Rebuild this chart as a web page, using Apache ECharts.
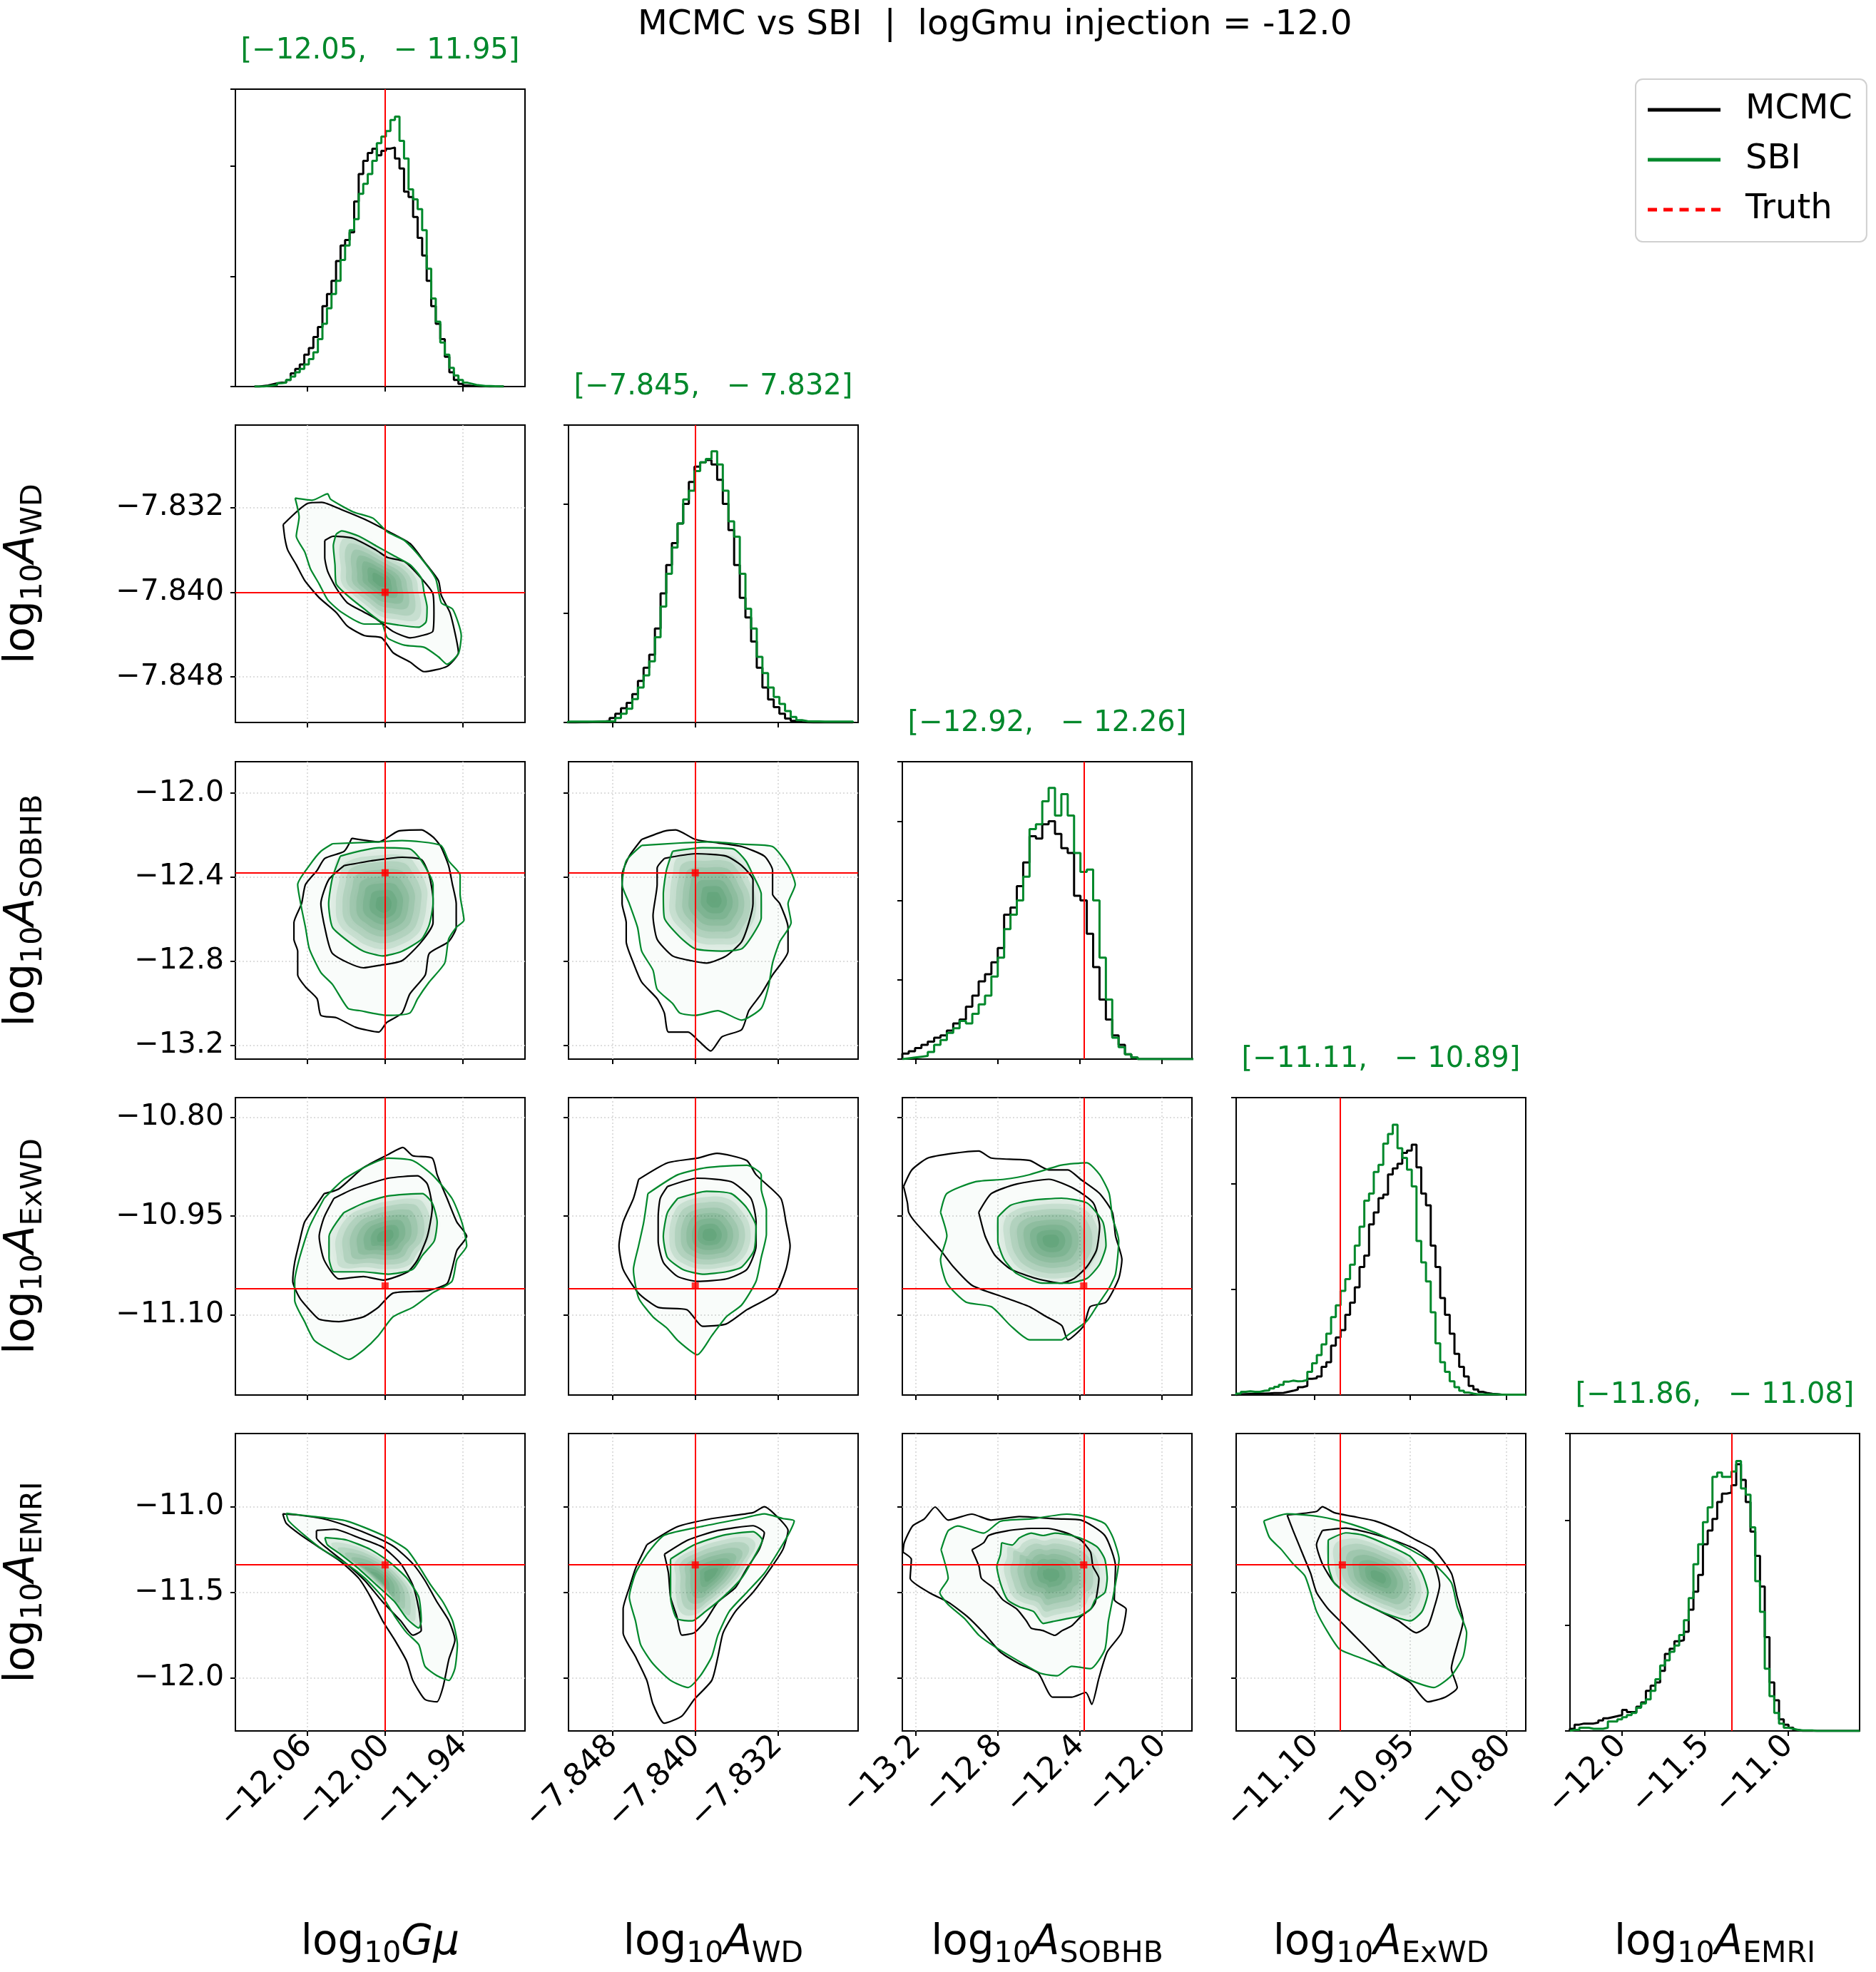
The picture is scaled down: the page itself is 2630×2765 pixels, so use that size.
<!DOCTYPE html>
<html>
<head>
<meta charset="utf-8">
<title>MCMC vs SBI corner plot</title>
<script src="https://cdn.jsdelivr.net/npm/echarts@6/dist/echarts.min.js"></script>
<style>
  html, body { margin: 0; padding: 0; background: #fff; }
  #chart { width: 2630px; height: 2765px; }
</style>
</head>
<body>
<div id="chart"></div>
<script>
const FONT = "DejaVu Sans"
const GREEN = "#00882b"
const RED = "#ff0000"

// parameters: log10 Gmu, log10 A_WD, log10 A_SOBHB, log10 A_ExWD, log10 A_EMRI
const axisMin = [-12.1156, -7.8523, -13.267, -11.2216, -12.309]
const axisMax = [-11.892, -7.8242, -11.851, -10.770, -10.573]
const truthValues = [-12.0, -7.840, -12.38, -11.056, -11.34]
const tickValues = [
  [-12.06, -12.00, -11.94],
  [-7.848, -7.840, -7.832],
  [-13.2, -12.8, -12.4, -12.0],
  [-11.10, -10.95, -10.80],
  [-12.0, -11.5, -11.0]
]
const tickDecimals = [2, 3, 1, 2, 1]
const intervalTitles = [
  "[\u221212.05,   \u2212 11.95]",
  "[\u22127.845,   \u2212 7.832]",
  "[\u221212.92,   \u2212 12.26]",
  "[\u221211.11,   \u2212 10.89]",
  "[\u221211.86,   \u2212 11.08]"
]
const axisNames = [
  "{r|log}{s|10}{i|G\u03bc}",
  "{r|log}{s|10}{i|A}{s|WD}",
  "{r|log}{s|10}{i|A}{s|SOBHB}",
  "{r|log}{s|10}{i|A}{s|ExWD}",
  "{r|log}{s|10}{i|A}{s|EMRI}"
]

// 1D marginals (density per bin)
const histStart = [-12.1009, -7.8527, -13.267, -11.2216, -12.31]
const histBinWidth = [0.0035, 0.000549, 0.0311, 0.0074, 0.0285]
const histMax = [27, 136, 3.75, 14.08, 2.82]
const histTickStep = [10, 50, 1, 5, 1]

const mcmcHist_Gmu = [0, 0.05, 0.1, 0.2, 0.3, 0.35, 0.35, 0.6, 1.2, 1.6,
  2.0, 2.9, 3.5, 4.5, 5.4, 7.3, 8.4, 9.6, 11.4, 12.8,
  13.3, 14.0, 16.8, 19.3, 20.5, 21.2, 21.6, 21.0, 21.4, 21.6,
  21.7, 20.7, 19.8, 17.7, 17.2, 15.4, 13.5, 11.9, 9.6, 7.3,
  5.7, 4.3, 2.7, 1.3, 0.6, 0.25, 0.1, 0.05, 0.03, 0.02,
  0.01, 0, 0, 0, 0]
const sbiHist_Gmu = [0, 0, 0.05, 0.1, 0.15, 0.3, 0.35, 0.6, 0.9, 1.3,
  1.6, 2.0, 2.5, 3.1, 4.3, 5.7, 7.1, 8.4, 9.6, 11.5,
  12.8, 14.2, 15.2, 17.5, 18.4, 19.3, 20.5, 22.1, 22.7, 23.2,
  24.2, 24.5, 22.3, 20.7, 17.9, 17.0, 16.1, 14.2, 10.7, 8.0,
  5.9, 4.0, 2.9, 1.7, 1.0, 0.6, 0.35, 0.25, 0.15, 0.1,
  0.05, 0.05, 0.03, 0.02, 0.02]
const mcmcHist_WD = [0, 0, 0.1, 0.1, 0.2, 0.3, 0.4, 0.7, 2, 4,
  6.5, 9, 13, 19, 25, 31, 43, 59, 72, 82,
  91, 100, 110, 117, 119, 120, 118, 111, 100, 88,
  72, 57, 48, 37, 25, 16, 10.5, 7, 4, 1.8,
  0.7, 0.2, 0.1, 0, 0, 0, 0, 0, 0, 0, 0]
const sbiHist_WD = [0.4, 0.4, 0.4, 0.4, 0.4, 0.4, 0.5, 0.5, 0.6, 2,
  4, 6.3, 10.7, 16, 21.5, 28, 39, 53, 68, 80,
  91, 102, 106, 115, 119, 120.5, 124, 118, 106, 92,
  85, 68, 52, 43, 30, 22.6, 16, 11.7, 8.5, 5.2,
  2.5, 1.1, 0.6, 0.5, 0.5, 0.4, 0.4, 0.4, 0.4, 0.4, 0.4]
const mcmcHist_SOBHB = [0.07, 0.1, 0.14, 0.18, 0.22, 0.27, 0.3, 0.36, 0.45, 0.5,
  0.66, 0.8, 0.98, 1.07, 1.22, 1.4, 1.82, 1.91, 2.18, 2.48,
  2.81, 2.78, 2.96, 3.0, 2.84, 2.66, 2.6, 2.06, 2.0, 1.58,
  1.16, 0.75, 0.5, 0.3, 0.18, 0.06, 0.02, 0, 0, 0,
  0, 0, 0, 0, 0, 0]
const sbiHist_SOBHB = [0.01, 0.02, 0.03, 0.04, 0.09, 0.18, 0.24, 0.33, 0.39, 0.48,
  0.45, 0.57, 0.69, 0.8, 1.04, 1.28, 1.64, 1.82, 2.0, 2.3,
  2.9, 2.96, 3.25, 3.42, 3.07, 3.34, 3.07, 2.6, 2.36, 2.39,
  2.0, 1.28, 0.75, 0.27, 0.15, 0.06, 0.02, 0, 0, 0,
  0, 0, 0, 0, 0, 0]
const mcmcHist_ExWD = [0.03, 0.04, 0.05, 0.06, 0.07, 0.07, 0.08, 0.09, 0.09, 0.1,
  0.15, 0.2, 0.26, 0.37, 0.43, 0.77, 0.79, 0.88, 1.33, 1.55,
  2.34, 2.73, 3.07, 3.8, 4.37, 5.1, 6.06, 6.6, 8.08, 8.64,
  9.32, 9.49, 10.44, 10.73, 10.95, 11.46, 11.57, 11.85, 10.78, 9.54,
  8.98, 7.07, 6.06, 4.59, 3.8, 2.9, 1.95, 1.33, 0.88, 0.43,
  0.26, 0.15, 0.09, 0.06, 0.04, 0.02, 0.02, 0.02, 0.02, 0.02, 0.02]
const sbiHist_ExWD = [0.07, 0.15, 0.18, 0.15, 0.15, 0.2, 0.22, 0.31, 0.39, 0.48,
  0.63, 0.68, 0.65, 0.66, 0.71, 1.1, 1.5, 1.89, 2.4, 2.9,
  3.69, 4.25, 4.93, 5.49, 6.17, 7.07, 7.97, 9.2, 9.54, 10.56,
  10.9, 11.9, 12.36, 12.8, 11.68, 11.23, 10.67, 9.88, 7.29, 6.28,
  5.38, 3.92, 2.45, 1.55, 1.1, 0.65, 0.37, 0.2, 0.12, 0.07,
  0.03, 0.03, 0.03, 0.03, 0.03, 0.02, 0.02, 0.02, 0.02, 0.02, 0.02]
const mcmcHist_EMRI = [0.02, 0.06, 0.07, 0.07, 0.07, 0.08, 0.1, 0.12, 0.13, 0.14,
  0.15, 0.2, 0.18, 0.18, 0.23, 0.27, 0.38, 0.43, 0.46, 0.57,
  0.73, 0.78, 0.85, 0.86, 0.94, 1.15, 1.32, 1.48, 1.77, 1.9,
  2.01, 2.17, 2.25, 2.26, 2.33, 2.53, 2.38, 2.17, 1.89, 1.66,
  1.37, 0.89, 0.46, 0.29, 0.11, 0.06, 0.03, 0.01, 0, 0,
  0, 0, 0, 0, 0, 0, 0, 0, 0, 0, 0]
const sbiHist_EMRI = [0.01, 0.01, 0.03, 0.03, 0.02, 0.02, 0.02, 0.03, 0.09, 0.09,
  0.11, 0.13, 0.15, 0.17, 0.22, 0.26, 0.3, 0.38, 0.49, 0.62,
  0.67, 0.75, 0.81, 0.91, 1.05, 1.26, 1.58, 1.77, 1.98, 2.12,
  2.41, 2.45, 2.41, 2.41, 2.46, 2.56, 2.3, 2.24, 1.93, 1.42,
  1.13, 0.59, 0.33, 0.17, 0.07, 0.03, 0.02, 0.01, 0.005, 0.005,
  0.005, 0, 0, 0, 0, 0, 0, 0, 0, 0, 0]

const mcmcHists = [mcmcHist_Gmu, mcmcHist_WD, mcmcHist_SOBHB, mcmcHist_ExWD, mcmcHist_EMRI]
const sbiHists = [sbiHist_Gmu, sbiHist_WD, sbiHist_SOBHB, sbiHist_ExWD, sbiHist_EMRI]

// 2D credible contours [x, y] (outer and inner level), rRcC = row R (y param), column C (x param)
const mcmcOuter_r1c0 = [[-12.0787,-7.8336],[-12.0598,-7.8316],[-12.0488,-7.8315],[-12.0335,-7.8322],[-12.0159,-7.8331],[-11.9983,-7.8342],[-11.9807,-7.8354],[-11.9698,-7.8371],[-11.9588,-7.8389],[-11.9566,-7.8403],[-11.95,-7.8419],[-11.9456,-7.8441],[-11.9434,-7.8457],[-11.9522,-7.847],[-11.9698,-7.8475],[-11.9807,-7.8466],[-11.9939,-7.8457],[-12.0027,-7.8443],[-12.0159,-7.8441],[-12.0291,-7.8432],[-12.0378,-7.8419],[-12.051,-7.8405],[-12.062,-7.8389],[-12.0686,-7.8374],[-12.0752,-7.836],[-12.0774,-7.8349]]
const mcmcInner_r1c0 = [[-12.0466,-7.8351],[-12.04,-7.8347],[-12.0247,-7.8349],[-12.0071,-7.836],[-11.9983,-7.8367],[-11.9851,-7.8371],[-11.9719,-7.8387],[-11.9632,-7.8401],[-11.9623,-7.8419],[-11.9632,-7.8437],[-11.9719,-7.8441],[-11.9807,-7.8443],[-11.9939,-7.8437],[-12.0071,-7.8425],[-12.0159,-7.8419],[-12.0291,-7.841],[-12.0378,-7.8396],[-12.0444,-7.838],[-12.0466,-7.8367]]
const sbiOuter_r1c0 = [[-12.0695,-7.8311],[-12.0563,-7.8313],[-12.0444,-7.8307],[-12.0422,-7.8312],[-12.0247,-7.8324],[-12.0093,-7.833],[-11.9983,-7.8343],[-11.9851,-7.8351],[-11.9741,-7.8365],[-11.961,-7.8387],[-11.9566,-7.841],[-11.9478,-7.8416],[-11.9412,-7.8441],[-11.9434,-7.8458],[-11.9522,-7.8468],[-11.9588,-7.8461],[-11.9698,-7.8452],[-11.9851,-7.845],[-11.9983,-7.8443],[-12.0027,-7.843],[-12.0159,-7.843],[-12.0335,-7.8419],[-12.0444,-7.8407],[-12.051,-7.8392],[-12.0576,-7.8378],[-12.062,-7.8362],[-12.0686,-7.8347],[-12.0664,-7.8329]]
const sbiInner_r1c0 = [[-12.0378,-7.8345],[-12.0335,-7.8342],[-12.0203,-7.8347],[-12.0071,-7.8356],[-11.9939,-7.8365],[-11.9807,-7.8374],[-11.9719,-7.8387],[-11.9698,-7.8401],[-11.9676,-7.8414],[-11.9684,-7.8428],[-11.9741,-7.8433],[-11.9895,-7.8431],[-12.0027,-7.8428],[-12.0159,-7.8416],[-12.0291,-7.8403],[-12.0378,-7.8392],[-12.0387,-7.8374],[-12.04,-7.8356]]

const mcmcOuter_r2c0 = [[-12.0257,-12.2155],[-12.0048,-12.2325],[-11.9899,-12.1815],[-11.9719,-12.1759],[-11.963,-12.2098],[-11.957,-12.2551],[-11.951,-12.3457],[-11.948,-12.4362],[-11.9451,-12.5268],[-11.9451,-12.64],[-11.951,-12.7079],[-11.966,-12.7645],[-11.969,-12.8664],[-11.9809,-12.9569],[-11.9869,-13.0475],[-11.9988,-13.0928],[-12.0048,-13.1381],[-12.0227,-13.1154],[-12.0376,-13.0701],[-12.0496,-13.0588],[-12.0525,-12.9796],[-12.0615,-12.923],[-12.0675,-12.8664],[-12.0675,-12.7532],[-12.0704,-12.6966],[-12.0704,-12.6173],[-12.0645,-12.5268],[-12.0615,-12.4362],[-12.0525,-12.3683],[-12.0466,-12.3117],[-12.0316,-12.2777]]
const mcmcInner_r2c0 = [[-12.0316,-12.3457],[-12.0107,-12.323],[-11.9869,-12.306],[-11.9719,-12.3174],[-11.966,-12.3909],[-11.963,-12.5041],[-11.963,-12.6173],[-11.9719,-12.7079],[-11.9869,-12.7985],[-12.0048,-12.8211],[-12.0167,-12.8324],[-12.0406,-12.7645],[-12.0466,-12.64],[-12.0496,-12.5268],[-12.0436,-12.4136]]
const sbiOuter_r2c0 = [[-12.0406,-12.2415],[-12.0048,-12.2325],[-11.9869,-12.2268],[-11.957,-12.2494],[-11.951,-12.323],[-11.9421,-12.3909],[-11.9421,-12.4815],[-11.9391,-12.606],[-11.9451,-12.64],[-11.951,-12.6966],[-11.954,-12.8098],[-11.966,-12.9003],[-11.9749,-12.9796],[-11.9809,-13.0475],[-11.9988,-13.0588],[-12.0197,-13.0362],[-12.0287,-13.0249],[-12.0406,-12.9117],[-12.0496,-12.855],[-12.0585,-12.7419],[-12.0615,-12.64],[-12.0645,-12.5494],[-12.0675,-12.4362],[-12.0585,-12.3457],[-12.0496,-12.2777]]
const sbiInner_r2c0 = [[-12.0346,-12.3004],[-12.0048,-12.2608],[-11.9809,-12.2664],[-11.9719,-12.323],[-11.963,-12.4362],[-11.963,-12.5268],[-11.966,-12.6287],[-11.9719,-12.6966],[-11.9869,-12.7532],[-12.0018,-12.7758],[-12.0167,-12.7532],[-12.0257,-12.7192],[-12.0406,-12.64],[-12.0436,-12.5268],[-12.0406,-12.4023]]

const mcmcOuter_r2c1 = [[-7.8452,-12.2211],[-7.843,-12.1815],[-7.8419,-12.1759],[-7.84,-12.2211],[-7.8378,-12.2381],[-7.8355,-12.2551],[-7.8333,-12.3004],[-7.8325,-12.3683],[-7.8325,-12.4815],[-7.8318,-12.5268],[-7.831,-12.64],[-7.831,-12.7532],[-7.8325,-12.8664],[-7.8336,-12.9569],[-7.8348,-13.0362],[-7.8355,-13.1268],[-7.8374,-13.1607],[-7.8385,-13.2286],[-7.8396,-13.1834],[-7.8407,-13.1381],[-7.8426,-13.1381],[-7.843,-13.0475],[-7.8437,-12.9796],[-7.8452,-12.9003],[-7.846,-12.8098],[-7.8467,-12.7079],[-7.8467,-12.6173],[-7.8471,-12.5268],[-7.8471,-12.3909],[-7.8464,-12.3004]]
const mcmcInner_r2c1 = [[-7.843,-12.3117],[-7.84,-12.2891],[-7.837,-12.3004],[-7.8355,-12.3457],[-7.8344,-12.4136],[-7.8344,-12.5268],[-7.8348,-12.6173],[-7.8355,-12.7079],[-7.837,-12.7758],[-7.8389,-12.8098],[-7.8404,-12.7985],[-7.8422,-12.7758],[-7.8437,-12.6966],[-7.8441,-12.5834],[-7.8437,-12.4362],[-7.8437,-12.357]]
const sbiOuter_r2c1 = [[-7.8452,-12.2494],[-7.8415,-12.2381],[-7.8385,-12.2325],[-7.8355,-12.2438],[-7.8325,-12.2551],[-7.831,-12.3457],[-7.8303,-12.4362],[-7.831,-12.5268],[-7.8307,-12.6173],[-7.8318,-12.7079],[-7.8325,-12.8098],[-7.8329,-12.923],[-7.8336,-13.0249],[-7.8355,-13.0815],[-7.8378,-13.0362],[-7.84,-13.0588],[-7.8415,-13.0475],[-7.8422,-13.0022],[-7.8437,-12.9343],[-7.8441,-12.8437],[-7.8452,-12.7532],[-7.8456,-12.64],[-7.8464,-12.5268],[-7.8471,-12.4362],[-7.8467,-12.323]]
const sbiInner_r2c1 = [[-7.8422,-12.2777],[-7.8393,-12.2608],[-7.8363,-12.2664],[-7.8351,-12.323],[-7.8344,-12.3909],[-7.8336,-12.4815],[-7.8336,-12.5947],[-7.8344,-12.6739],[-7.8355,-12.7419],[-7.8374,-12.7532],[-7.84,-12.7419],[-7.8415,-12.6853],[-7.843,-12.5947],[-7.8431,-12.4815],[-7.8428,-12.3683]]

const mcmcOuter_r3c0 = [[-12.0471,-10.9158],[-12.0357,-10.9086],[-12.0167,-10.8763],[-11.9977,-10.8565],[-11.9863,-10.8457],[-11.9787,-10.8583],[-11.9636,-10.8619],[-11.9598,-10.8871],[-11.9522,-10.923],[-11.9446,-10.959],[-11.937,-10.9806],[-11.9446,-11.0022],[-11.9484,-11.0309],[-11.9522,-11.0525],[-11.9674,-11.0633],[-11.9939,-11.0669],[-12.0053,-11.0885],[-12.0167,-11.1029],[-12.0357,-11.1101],[-12.0509,-11.1065],[-12.0584,-11.0921],[-12.066,-11.0741],[-12.0713,-11.0489],[-12.0698,-11.0201],[-12.066,-10.9878],[-12.0622,-10.959],[-12.0546,-10.9374]]
const mcmcInner_r3c0 = [[-12.0395,-10.923],[-12.0243,-10.9086],[-11.9977,-10.8924],[-11.975,-10.8888],[-11.9674,-10.9014],[-11.9636,-10.9374],[-11.9674,-10.9806],[-11.975,-11.0165],[-11.9825,-11.0345],[-12.0015,-11.0471],[-12.0167,-11.0417],[-12.0357,-11.0453],[-12.0471,-11.0165],[-12.0509,-10.9806],[-12.0471,-10.9518]]
const sbiOuter_r3c0 = [[-12.0471,-10.923],[-12.0319,-10.8942],[-12.0129,-10.8727],[-11.9977,-10.8619],[-11.9787,-10.8655],[-11.9636,-10.8871],[-11.9484,-10.923],[-11.9408,-10.959],[-11.937,-10.995],[-11.9446,-11.0165],[-11.9484,-11.0489],[-11.9636,-11.0669],[-11.9787,-11.0885],[-11.9939,-11.1029],[-12.0053,-11.1316],[-12.0167,-11.1532],[-12.0281,-11.1676],[-12.0395,-11.1568],[-12.0546,-11.1388],[-12.0622,-11.1101],[-12.0698,-11.0777],[-12.0698,-11.0489],[-12.066,-11.0129],[-12.0584,-10.9662]]
const sbiInner_r3c0 = [[-12.0319,-10.9446],[-12.0167,-10.9302],[-11.9977,-10.9194],[-11.9712,-10.9158],[-11.9636,-10.9302],[-11.9598,-10.959],[-11.9621,-10.9878],[-11.9712,-11.0094],[-11.9787,-11.0309],[-11.9977,-11.0381],[-12.0167,-11.0345],[-12.0395,-11.0345],[-12.0433,-11.0129],[-12.0433,-10.9806]]

const mcmcOuter_r3c1 = [[-7.8455,-10.8942],[-7.8427,-10.8691],[-7.8398,-10.8619],[-7.8379,-10.8547],[-7.835,-10.8655],[-7.8341,-10.8871],[-7.8317,-10.923],[-7.8312,-10.959],[-7.8308,-10.995],[-7.8312,-11.0309],[-7.8322,-11.0669],[-7.835,-11.0921],[-7.837,-11.1137],[-7.8393,-11.1173],[-7.8408,-11.0921],[-7.8436,-11.0885],[-7.8455,-11.0669],[-7.847,-11.0309],[-7.8474,-10.995],[-7.847,-10.959],[-7.846,-10.923]]
const mcmcInner_r3c1 = [[-7.8427,-10.905],[-7.8398,-10.8924],[-7.8365,-10.8978],[-7.8346,-10.923],[-7.8341,-10.959],[-7.8341,-10.995],[-7.835,-11.0309],[-7.837,-11.0453],[-7.8398,-11.0489],[-7.8417,-11.0417],[-7.8431,-11.0201],[-7.8436,-10.9878],[-7.8436,-10.9518],[-7.8434,-10.923]]
const sbiOuter_r3c1 = [[-7.8446,-10.9158],[-7.8417,-10.8871],[-7.8389,-10.8763],[-7.835,-10.8727],[-7.8336,-10.8871],[-7.8336,-10.9086],[-7.8331,-10.941],[-7.8331,-10.977],[-7.8336,-11.0129],[-7.8341,-11.0489],[-7.8355,-11.0849],[-7.837,-11.1029],[-7.8384,-11.1316],[-7.8398,-11.1604],[-7.8417,-11.1388],[-7.8427,-11.1208],[-7.8441,-11.1029],[-7.8455,-11.0741],[-7.846,-11.0309],[-7.8455,-10.995],[-7.845,-10.959]]
const sbiInner_r3c1 = [[-7.8417,-10.923],[-7.8389,-10.9122],[-7.8365,-10.9158],[-7.835,-10.9374],[-7.8341,-10.9662],[-7.8343,-11.0022],[-7.8355,-11.0273],[-7.837,-11.0345],[-7.8393,-11.0381],[-7.8412,-11.0309],[-7.8427,-11.0129],[-7.8431,-10.9806],[-7.8427,-10.9446]]

const mcmcOuter_r3c2 = [[-13.2608,-10.9048],[-13.2203,-10.8797],[-13.1425,-10.8618],[-13.018,-10.8546],[-12.8936,-10.851],[-12.8313,-10.8618],[-12.6446,-10.8654],[-12.5512,-10.8797],[-12.4579,-10.8797],[-12.3956,-10.894],[-12.3023,-10.9156],[-12.24,-10.9442],[-12.2245,-10.9801],[-12.1934,-11.0159],[-12.2089,-11.0446],[-12.2712,-11.0805],[-12.349,-11.0876],[-12.3801,-11.1163],[-12.4579,-11.1378],[-12.487,-11.1163],[-12.5668,-11.102],[-12.6446,-11.0876],[-12.7691,-11.0733],[-12.9247,-11.0554],[-13.018,-11.0267],[-13.0803,-11.0016],[-13.2048,-10.9586],[-13.2359,-10.9442],[-13.2421,-10.9299]]
const mcmcInner_r3c2 = [[-12.8936,-10.9442],[-12.8313,-10.9156],[-12.7069,-10.9012],[-12.5512,-10.894],[-12.4267,-10.9084],[-12.3334,-10.9299],[-12.3023,-10.9657],[-12.3178,-11.0016],[-12.3645,-11.0267],[-12.4267,-11.0446],[-12.489,-11.0518],[-12.6135,-11.0446],[-12.738,-11.0303],[-12.8158,-11.0088],[-12.8625,-10.9801]]
const sbiOuter_r3c2 = [[-13.0803,-10.9442],[-13.0492,-10.9156],[-12.9091,-10.8976],[-12.7691,-10.894],[-12.6446,-10.8869],[-12.489,-10.8725],[-12.3645,-10.8689],[-12.3023,-10.8869],[-12.2556,-10.9156],[-12.24,-10.9514],[-12.2089,-10.9872],[-12.2245,-11.0374],[-12.2556,-11.0589],[-12.3178,-11.0876],[-12.3645,-11.1091],[-12.4579,-11.1307],[-12.489,-11.1378],[-12.6446,-11.1378],[-12.738,-11.1163],[-12.8313,-11.0876],[-12.9558,-11.0805],[-13.0492,-11.0518],[-13.0803,-11.0159],[-13.0492,-10.9801]]
const sbiInner_r3c2 = [[-12.8002,-10.9514],[-12.738,-10.9335],[-12.6446,-10.9263],[-12.489,-10.9227],[-12.3645,-10.9299],[-12.2867,-10.9586],[-12.2712,-10.9944],[-12.3023,-11.0231],[-12.3645,-11.0446],[-12.4579,-11.0518],[-12.5823,-11.0518],[-12.7069,-11.0374],[-12.7691,-11.0159],[-12.8002,-10.9872]]

const mcmcOuter_r4c0 = [[-12.079,-11.0417],[-12.067,-11.0486],[-12.0484,-11.0694],[-12.0298,-11.1111],[-12.0065,-11.1806],[-11.9926,-11.2361],[-11.9786,-11.3333],[-11.9693,-11.4306],[-11.96,-11.5556],[-11.9507,-11.6667],[-11.9461,-11.7778],[-11.9507,-11.8889],[-11.9554,-12.0556],[-11.96,-12.1389],[-11.9693,-12.125],[-11.9786,-12.0139],[-11.9833,-11.9028],[-11.9926,-11.7778],[-12.0019,-11.6667],[-12.0112,-11.5278],[-12.0205,-11.4167],[-12.0344,-11.3194],[-12.0484,-11.25],[-12.0623,-11.1806],[-12.0763,-11.0972]]
const mcmcInner_r4c0 = [[-12.053,-11.1389],[-12.0391,-11.1319],[-12.0205,-11.1806],[-12.0019,-11.2361],[-11.9879,-11.3333],[-11.9786,-11.4583],[-11.974,-11.5972],[-11.9721,-11.7222],[-11.9786,-11.75],[-11.9879,-11.6667],[-12.0019,-11.5556],[-12.0158,-11.4306],[-12.0298,-11.3333],[-12.0437,-11.25],[-12.053,-11.1806]]
const sbiOuter_r4c0 = [[-12.0763,-11.0389],[-12.0577,-11.0556],[-12.0298,-11.0833],[-12.0019,-11.1667],[-11.9833,-11.25],[-11.974,-11.3472],[-11.9647,-11.4583],[-11.9554,-11.5556],[-11.9479,-11.6667],[-11.9442,-11.8056],[-11.9461,-11.9444],[-11.9507,-12.0139],[-11.96,-11.9861],[-11.9693,-11.9306],[-11.974,-11.8056],[-11.9833,-11.7361],[-11.9926,-11.6389],[-12.0019,-11.5278],[-12.0158,-11.4167],[-12.0298,-11.3333],[-12.0484,-11.25],[-12.0623,-11.1667],[-12.0744,-11.0833]]
const sbiInner_r4c0 = [[-12.0465,-11.1806],[-12.0298,-11.1944],[-12.0112,-11.25],[-11.9972,-11.3194],[-11.9833,-11.4167],[-11.974,-11.5278],[-11.9721,-11.6667],[-11.974,-11.7083],[-11.9833,-11.6528],[-11.9926,-11.5556],[-12.0065,-11.4583],[-12.0205,-11.3611],[-12.0344,-11.2778],[-12.0446,-11.2222]]

const mcmcOuter_r4c1 = [[-7.8447,-11.2222],[-7.8418,-11.1181],[-7.8384,-11.0694],[-7.8344,-11.0347],[-7.8333,-11.0],[-7.8321,-11.0556],[-7.831,-11.1389],[-7.8315,-11.25],[-7.8327,-11.3611],[-7.8344,-11.5],[-7.8361,-11.6111],[-7.8373,-11.7361],[-7.8378,-11.875],[-7.8384,-12.0139],[-7.8401,-12.125],[-7.8413,-12.2222],[-7.843,-12.2639],[-7.8441,-12.1528],[-7.8447,-12.0139],[-7.8458,-11.875],[-7.847,-11.7361],[-7.847,-11.5972],[-7.8464,-11.4722],[-7.8458,-11.3611]]
const mcmcInner_r4c1 = [[-7.843,-11.2778],[-7.8407,-11.1944],[-7.8378,-11.1389],[-7.8344,-11.1111],[-7.8333,-11.1528],[-7.8338,-11.25],[-7.835,-11.3611],[-7.8361,-11.4722],[-7.8378,-11.5556],[-7.839,-11.6667],[-7.8401,-11.7361],[-7.8413,-11.75],[-7.8418,-11.6389],[-7.8424,-11.5278],[-7.8426,-11.3889]]
const sbiOuter_r4c1 = [[-7.8447,-11.2778],[-7.843,-11.1667],[-7.839,-11.1111],[-7.8355,-11.0694],[-7.8333,-11.0417],[-7.8315,-11.0694],[-7.8304,-11.0833],[-7.831,-11.1667],[-7.8321,-11.2778],[-7.8333,-11.3889],[-7.835,-11.5],[-7.8367,-11.6111],[-7.8378,-11.75],[-7.8384,-11.875],[-7.8395,-11.9861],[-7.8407,-12.0556],[-7.8424,-12.0139],[-7.8441,-11.9167],[-7.8453,-11.8056],[-7.8458,-11.6667],[-7.8464,-11.5278],[-7.8458,-11.3889]]
const sbiInner_r4c1 = [[-7.8424,-11.3056],[-7.8401,-11.2222],[-7.8373,-11.1667],[-7.8344,-11.1458],[-7.8335,-11.1944],[-7.8344,-11.3056],[-7.8355,-11.4167],[-7.8373,-11.5278],[-7.839,-11.6111],[-7.8403,-11.6667],[-7.8418,-11.6528],[-7.8424,-11.5278],[-7.8424,-11.4167]]

const mcmcOuter_r4c2 = [[-13.2635,-11.2655],[-13.2229,-11.3071],[-13.2287,-11.4181],[-13.1358,-11.5014],[-13.043,-11.5569],[-12.9501,-11.6401],[-12.8689,-11.7373],[-12.7876,-11.8483],[-12.6948,-11.9177],[-12.6019,-11.9732],[-12.5323,-12.112],[-12.4394,-12.112],[-12.3698,-12.0842],[-12.3408,-12.1536],[-12.3059,-12.001],[-12.2653,-11.8483],[-12.1957,-11.7373],[-12.1725,-11.5985],[-12.2305,-11.543],[-12.2247,-11.3487],[-12.2769,-11.1683],[-12.393,-11.0781],[-12.5091,-11.0712],[-12.6948,-11.0573],[-12.8341,-11.0781],[-12.9269,-11.0434],[-13.043,-11.0781],[-13.1068,-11.0018],[-13.1591,-11.0712],[-13.2171,-11.1128],[-13.2577,-11.21]]
const mcmcInner_r4c2 = [[-12.9269,-11.2516],[-12.8689,-11.21],[-12.8457,-11.1683],[-12.7528,-11.1406],[-12.6367,-11.1267],[-12.5555,-11.1267],[-12.4626,-11.1544],[-12.393,-11.1961],[-12.3466,-11.2655],[-12.335,-11.3487],[-12.3059,-11.4181],[-12.3234,-11.5569],[-12.3466,-11.5985],[-12.393,-11.6401],[-12.4394,-11.6957],[-12.4858,-11.7234],[-12.5207,-11.7512],[-12.5787,-11.7234],[-12.6367,-11.7095],[-12.66,-11.6679],[-12.7064,-11.5985],[-12.776,-11.543],[-12.8225,-11.4736],[-12.8805,-11.4181],[-12.8921,-11.3487]]
const sbiOuter_r4c2 = [[-13.0778,-11.2516],[-13.043,-11.1406],[-12.9966,-11.1128],[-12.8689,-11.1544],[-12.7876,-11.0851],[-12.6367,-11.0712],[-12.4626,-11.0434],[-12.3698,-11.0573],[-12.2769,-11.0989],[-12.2363,-11.1822],[-12.2073,-11.3071],[-12.2305,-11.4875],[-12.2595,-11.6679],[-12.2769,-11.8344],[-12.3466,-11.9454],[-12.4394,-11.9316],[-12.5091,-11.9871],[-12.5903,-11.9732],[-12.6948,-11.9038],[-12.8108,-11.8205],[-12.8921,-11.7512],[-12.9617,-11.654],[-13.043,-11.5708],[-13.0836,-11.5014],[-13.043,-11.4181]]
const sbiInner_r4c2 = [[-12.7818,-11.21],[-12.7296,-11.2238],[-12.6948,-11.1822],[-12.6367,-11.1544],[-12.5787,-11.1683],[-12.5207,-11.1544],[-12.4394,-11.1683],[-12.3698,-11.1961],[-12.3117,-11.2377],[-12.2769,-11.3071],[-12.2653,-11.4181],[-12.2769,-11.5014],[-12.3234,-11.543],[-12.3466,-11.5985],[-12.4046,-11.6401],[-12.4626,-11.654],[-12.5207,-11.6679],[-12.5787,-11.6818],[-12.6251,-11.6124],[-12.6948,-11.5846],[-12.7528,-11.543],[-12.7876,-11.4459],[-12.805,-11.3487],[-12.7876,-11.2793]]

const mcmcOuter_r4c3 = [[-11.1421,-11.0486],[-11.0963,-11.0278],[-11.0872,-11.0],[-11.0689,-11.0347],[-11.0415,-11.0556],[-11.0049,-11.0833],[-10.9683,-11.1389],[-10.9409,-11.1944],[-10.9134,-11.25],[-10.886,-11.3889],[-10.8769,-11.5278],[-10.8677,-11.6667],[-10.8769,-11.8056],[-10.886,-11.9444],[-10.8769,-12.0556],[-10.8952,-12.1111],[-10.9226,-12.1389],[-10.95,-12.0278],[-10.9866,-11.9444],[-11.0049,-11.875],[-11.0232,-11.8056],[-11.0415,-11.7361],[-11.0598,-11.6667],[-11.0781,-11.5972],[-11.0963,-11.5],[-11.1055,-11.3889],[-11.1146,-11.3056],[-11.1238,-11.2222],[-11.1329,-11.1389]]
const mcmcInner_r4c3 = [[-11.0872,-11.1389],[-11.0506,-11.125],[-11.014,-11.1528],[-10.9775,-11.1944],[-10.9409,-11.25],[-10.9134,-11.3333],[-10.9043,-11.4583],[-10.9134,-11.5972],[-10.9226,-11.6944],[-10.9409,-11.7361],[-10.9683,-11.6667],[-11.0049,-11.5972],[-11.0415,-11.5278],[-11.0689,-11.4444],[-11.0872,-11.3333],[-11.0963,-11.2222]]
const sbiOuter_r4c3 = [[-11.1786,-11.0833],[-11.1421,-11.0417],[-11.0963,-11.0556],[-11.0598,-11.0833],[-11.0232,-11.125],[-10.9866,-11.1806],[-10.95,-11.25],[-10.9134,-11.3333],[-10.886,-11.4444],[-10.8769,-11.5833],[-10.8622,-11.7361],[-10.8677,-11.875],[-10.886,-11.9861],[-10.9134,-12.0556],[-10.95,-12.0139],[-10.9866,-11.9444],[-11.0232,-11.8889],[-11.0598,-11.8333],[-11.0781,-11.7361],[-11.0963,-11.6111],[-11.1055,-11.5],[-11.1146,-11.4028],[-11.1329,-11.3333],[-11.1512,-11.25],[-11.1695,-11.1806]]
const sbiInner_r4c3 = [[-11.0781,-11.1944],[-11.0506,-11.1528],[-11.0232,-11.1667],[-10.9866,-11.2222],[-10.95,-11.2917],[-10.9317,-11.3889],[-10.9226,-11.5],[-10.9317,-11.6111],[-10.95,-11.6667],[-10.9775,-11.6389],[-11.0049,-11.5972],[-11.0415,-11.5278],[-11.0689,-11.4444],[-11.0781,-11.3333]]

const pairPanels = [
  { r: 1, c: 0, mcmc: [mcmcOuter_r1c0, mcmcInner_r1c0], sbi: [sbiOuter_r1c0, sbiInner_r1c0] },
  { r: 2, c: 0, mcmc: [mcmcOuter_r2c0, mcmcInner_r2c0], sbi: [sbiOuter_r2c0, sbiInner_r2c0] },
  { r: 2, c: 1, mcmc: [mcmcOuter_r2c1, mcmcInner_r2c1], sbi: [sbiOuter_r2c1, sbiInner_r2c1] },
  { r: 3, c: 0, mcmc: [mcmcOuter_r3c0, mcmcInner_r3c0], sbi: [sbiOuter_r3c0, sbiInner_r3c0] },
  { r: 3, c: 1, mcmc: [mcmcOuter_r3c1, mcmcInner_r3c1], sbi: [sbiOuter_r3c1, sbiInner_r3c1] },
  { r: 3, c: 2, mcmc: [mcmcOuter_r3c2, mcmcInner_r3c2], sbi: [sbiOuter_r3c2, sbiInner_r3c2] },
  { r: 4, c: 0, mcmc: [mcmcOuter_r4c0, mcmcInner_r4c0], sbi: [sbiOuter_r4c0, sbiInner_r4c0] },
  { r: 4, c: 1, mcmc: [mcmcOuter_r4c1, mcmcInner_r4c1], sbi: [sbiOuter_r4c1, sbiInner_r4c1] },
  { r: 4, c: 2, mcmc: [mcmcOuter_r4c2, mcmcInner_r4c2], sbi: [sbiOuter_r4c2, sbiInner_r4c2] },
  { r: 4, c: 3, mcmc: [mcmcOuter_r4c3, mcmcInner_r4c3], sbi: [sbiOuter_r4c3, sbiInner_r4c3] }
]

// layout
const colLeft = [330, 797, 1265, 1733, 2201]
const rowTop = [125, 596, 1068, 1539, 2010]
const PW = 406, PH = 417

const nameRich = {
  r: { fontFamily: FONT, fontSize: 58, lineHeight: 72, verticalAlign: "middle", color: "#000" },
  i: { fontFamily: FONT, fontSize: 58, lineHeight: 72, verticalAlign: "middle", fontStyle: "italic", color: "#000" },
  s: { fontFamily: FONT, fontSize: 41, lineHeight: 40, verticalAlign: "bottom", color: "#000" }
}

const DASH_ICON = "path://M0,0h13v5h-13z M22,0h13v5h-13z M44.5,0h13v5h-13z M67,0h13v5h-13z M89,0h13v5h-13z"

function tickFormatter(p) {
  return v => (v < 0 ? "\u2212" : "") + Math.abs(v).toFixed(tickDecimals[p])
}

function histPoints(p, values) {
  const pts = []
  const edge = i => histStart[p] + i * histBinWidth[p]
  pts.push([edge(0), 0])
  values.forEach((h, i) => pts.push([edge(i), h]))
  pts.push([edge(values.length), values[values.length - 1]])
  pts.push([edge(values.length), 0])
  return pts
}

const grids = [], xAxes = [], yAxes = [], series = []
const titles = [{
  text: "MCMC vs SBI  |  logGmu injection = -12.0",
  left: 894, top: 11, padding: 0,
  textStyle: { fontFamily: FONT, fontSize: 48.5, fontWeight: "normal", color: "#000" }
}]

function addGrid(r, c) {
  grids.push({
    left: colLeft[c], top: rowTop[r], width: PW, height: PH,
    show: true, borderColor: "#000", borderWidth: 2, backgroundColor: "transparent"
  })
  return grids.length - 1
}

function valueXAxis(p, gi, labels, gridLines) {
  return {
    type: "value", gridIndex: gi, min: axisMin[p], max: axisMax[p],
    axisLine: { show: false },
    axisTick: { show: true, customValues: tickValues[p], length: 7, lineStyle: { color: "#000", width: 2 } },
    axisLabel: {
      show: labels, customValues: tickValues[p], formatter: tickFormatter(p), rotate: 45, margin: 14,
      fontFamily: FONT, fontSize: 44, color: "#000"
    },
    splitLine: { show: gridLines, lineStyle: { color: "#d4d4d4", width: 1.5, type: [2, 3] } },
    name: labels ? axisNames[p] : "", nameLocation: "middle", nameGap: 262,
    nameTextStyle: { rich: nameRich }
  }
}

function valueYAxis(p, gi, labels) {
  return {
    type: "value", gridIndex: gi, min: axisMin[p], max: axisMax[p],
    axisLine: { show: false },
    axisTick: { show: true, customValues: tickValues[p], length: 7, lineStyle: { color: "#000", width: 2 } },
    axisLabel: {
      show: labels, customValues: tickValues[p], formatter: tickFormatter(p), margin: 16,
      fontFamily: FONT, fontSize: 41, color: "#000"
    },
    splitLine: { show: true, lineStyle: { color: "#d4d4d4", width: 1.5, type: [2, 3] } },
    name: labels ? axisNames[p] : "", nameLocation: "middle", nameRotate: 90, nameGap: 262,
    nameTextStyle: { rich: nameRich }
  }
}

// diagonal: marginal histograms
for (let p = 0; p < 5; p++) {
  const gi = addGrid(p, p)
  xAxes.push(valueXAxis(p, gi, p === 4, false))
  yAxes.push({
    type: "value", gridIndex: gi, min: 0, max: histMax[p], interval: histTickStep[p],
    axisLine: { show: false },
    axisTick: { show: true, length: 7, lineStyle: { color: "#000", width: 2 } },
    axisLabel: { show: false }, splitLine: { show: false }
  })
  series.push({
    type: "line", name: "MCMC", xAxisIndex: gi, yAxisIndex: gi, step: "end",
    data: histPoints(p, mcmcHists[p]), symbol: "none", silent: true, z: 3,
    lineStyle: { color: "#000", width: 3 }, itemStyle: { color: "#000" },
    markLine: {
      silent: true, symbol: "none", animation: false, label: { show: false },
      lineStyle: { color: RED, width: 2, type: "solid" },
      data: [{ xAxis: truthValues[p] }]
    }
  })
  series.push({
    type: "line", name: "SBI", xAxisIndex: gi, yAxisIndex: gi, step: "end",
    data: histPoints(p, sbiHists[p]), symbol: "none", silent: true, z: 4,
    lineStyle: { color: GREEN, width: 3 }, itemStyle: { color: GREEN }
  })
  titles.push({
    text: intervalTitles[p], left: colLeft[p] + PW / 2, textAlign: "center",
    top: rowTop[p] - 73, padding: 0,
    textStyle: { fontFamily: FONT, fontSize: 40, fontWeight: "normal", color: GREEN }
  })
}

// SBI density shading, built from the SBI contours of the panel
const heatSteps = [1, 0.87, 0.75, 0.62, 0.5, 0.38, 0.26, 0.15]
function heatSeries(gi, inner, outer, pt) {
  return {
    type: "custom", xAxisIndex: gi, yAxisIndex: gi, data: [pt], silent: true, clip: true, z: 1,
    renderItem(params, api) {
      const pin = inner.map(q => api.coord(q))
      const pout = outer.map(q => api.coord(q))
      let cx = 0, cy = 0
      pin.forEach(q => { cx += q[0]; cy += q[1] })
      cx /= pin.length; cy /= pin.length
      const shrink = k => pin.map(q => [cx + (q[0] - cx) * k, cy + (q[1] - cy) * k])
      const layer = (points, a, blur) => ({
        type: "polygon", shape: { points, smooth: 0.4 },
        style: { fill: "rgba(15,125,55," + a + ")", shadowBlur: blur, shadowColor: "rgba(15,125,55," + a + ")" }
      })
      const children = [layer(pout, 0.025, 30)]
      heatSteps.forEach(k => children.push(layer(shrink(k), 0.105, 26)))
      return { type: "group", children }
    }
  }
}

function contourSeries(name, color, pts, gi) {
  return {
    type: "line", name, xAxisIndex: gi, yAxisIndex: gi, data: pts.concat([pts[0]]),
    symbol: "none", smooth: 0.2, silent: true, z: 3,
    lineStyle: { color, width: 2.2 }, itemStyle: { color }
  }
}

// lower triangle: pairwise contours
pairPanels.forEach(pp => {
  const gi = addGrid(pp.r, pp.c)
  xAxes.push(valueXAxis(pp.c, gi, pp.r === 4, true))
  yAxes.push(valueYAxis(pp.r, gi, pp.c === 0))
  const tp = [truthValues[pp.c], truthValues[pp.r]]
  series.push(heatSeries(gi, pp.sbi[1], pp.sbi[0], tp))
  pp.mcmc.forEach(ct => series.push(contourSeries("MCMC", "#000", ct, gi)))
  pp.sbi.forEach(ct => series.push(contourSeries("SBI", GREEN, ct, gi)))
  series.push({
    type: "scatter", xAxisIndex: gi, yAxisIndex: gi, data: [tp], symbol: "rect", symbolSize: 10,
    itemStyle: { color: RED }, silent: true, z: 6,
    markLine: {
      silent: true, symbol: "none", animation: false, label: { show: false },
      lineStyle: { color: RED, width: 2, type: "solid" },
      data: [{ xAxis: tp[0] }, { yAxis: tp[1] }]
    }
  })
})

// legend entry for the truth marker style
series.push({
  type: "line", name: "Truth", xAxisIndex: 0, yAxisIndex: 0, data: [], symbol: "none",
  lineStyle: { color: RED, width: 4, type: [13, 9] }, itemStyle: { color: RED }
})

const chart = echarts.init(document.getElementById("chart"), null, { renderer: "canvas" })
chart.setOption({
  animation: false,
  backgroundColor: "#fff",
  title: titles,
  legend: {
    data: [
      { name: "MCMC", icon: "rect" },
      { name: "SBI", icon: "rect" },
      { name: "Truth", icon: DASH_ICON }
    ],
    orient: "vertical", left: 2293, top: 111,
    padding: [18, 20, 20, 17], itemGap: 20, itemWidth: 102, itemHeight: 5,
    backgroundColor: "#fff", borderColor: "#d0d0d0", borderWidth: 2, borderRadius: 10,
    textStyle: { fontFamily: FONT, fontSize: 48, color: "#000", lineHeight: 50, padding: [0, 0, 0, 30] }
  },
  grid: grids,
  xAxis: xAxes,
  yAxis: yAxes,
  series
})
</script>
</body>
</html>
